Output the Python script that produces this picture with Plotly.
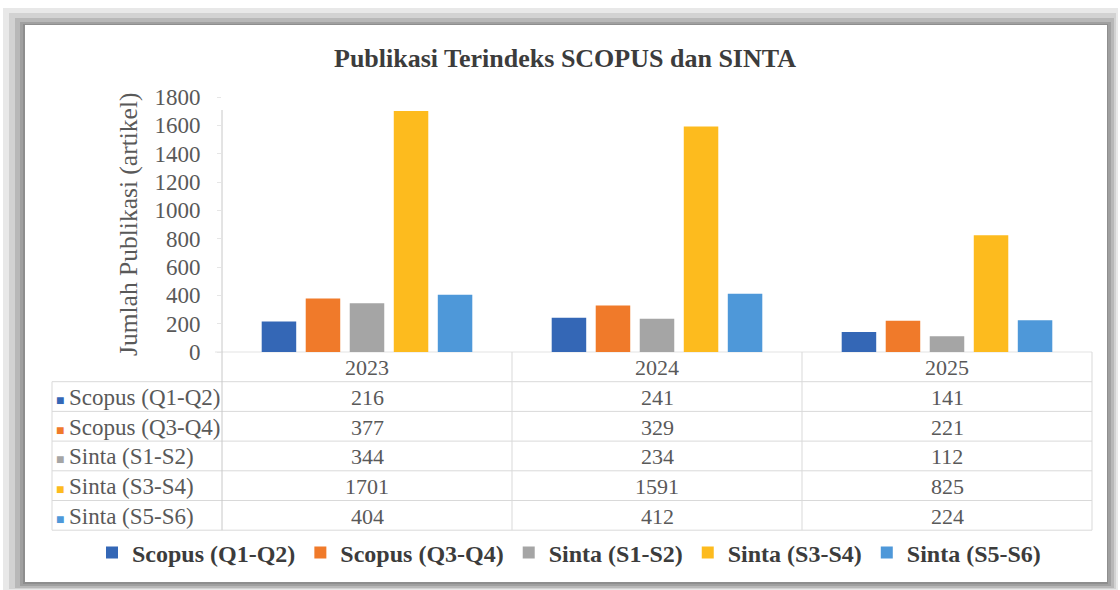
import plotly.graph_objects as go

# ---------------- data ----------------
years = ["2023", "2024", "2025"]
series_names = ["Scopus (Q1-Q2)", "Scopus (Q3-Q4)", "Sinta (S1-S2)", "Sinta (S3-S4)", "Sinta (S5-S6)"]
scopus_q1q2 = [216, 241, 141]
scopus_q3q4 = [377, 329, 221]
sinta_s1s2 = [344, 234, 112]
sinta_s3s4 = [1701, 1591, 825]
sinta_s5s6 = [404, 412, 224]
y_tick_values = [0, 200, 400, 600, 800, 1000, 1200, 1400, 1600, 1800]
chart_title = "Publikasi Terindeks SCOPUS dan SINTA"
y_title = "Jumlah Publikasi (artikel)"

series_values = [scopus_q1q2, scopus_q3q4, sinta_s1s2, sinta_s3s4, sinta_s5s6]
colors = ["#3467B6", "#F07A2A", "#A5A5A5", "#FDBB1E", "#4E98D9"]

# ---------------- layout geometry (pixels) ----------------
W, H = 1120, 590
L, R, T, B = 222, 1092, 97, 352
FONT = "Liberation Serif"
TXT = "#595959"
GRID = "#D9D9D9"


def px(x):
    return (x - L) / (R - L)


def py(y):
    return (B - y) / (B - T)


fig = go.Figure()
for name, vals, col in zip(series_names, series_values, colors):
    fig.add_trace(go.Bar(x=years, y=vals, name=name, marker=dict(color=col, line=dict(width=0))))

shapes = []
# frame with shadow
frame_layers = [
    ((3, 8, 1118, 590), "#e8e8e8"),
    ((9, 13, 1116, 589), "#d2d2d2"),
    ((15, 18, 1114, 588), "#b8b8b8"),
    ((20, 22, 1111, 586), "#a0a0a0"),
    ((23, 24, 1108, 584), "#8e8e8e"),
    ((25, 25, 1107, 582), "#ffffff"),
]
for (x0, y0, x1, y1), c in frame_layers:
    shapes.append(dict(type="rect", xref="paper", yref="paper", x0=px(x0), x1=px(x1), y0=py(y0), y1=py(y1),
                       fillcolor=c, line=dict(width=0), layer="below"))

# data table geometry
row_h = 29.7
hdr_top = B
hdr_bot = B + row_h
row_tops = [hdr_bot + i * row_h for i in range(len(series_names) + 1)]
tbl_bot = row_tops[-1]
label_left = 52
cat_w = (R - L) / len(years)


def cat_center(i):
    return px(L + (i + 0.5) * cat_w)


def hline(x0, x1, y, color=GRID, w=1):
    shapes.append(dict(type="line", xref="paper", yref="paper", x0=px(x0), x1=px(x1), y0=py(y), y1=py(y),
                       line=dict(color=color, width=w), layer="below"))


def vline(x, y0, y1, color=GRID, w=1):
    shapes.append(dict(type="line", xref="paper", yref="paper", x0=px(x), x1=px(x), y0=py(y0), y1=py(y1),
                       line=dict(color=color, width=w), layer="below"))


hline(215, R, B, "#E3E3E3")
for yy in row_tops:
    hline(label_left, R, yy)
for i in range(1, len(years) + 1):
    vline(L + i * cat_w, B, tbl_bot)
vline(label_left, hdr_bot, tbl_bot)
vline(L, 110, tbl_bot, "#C8C8C8")

annotations = []
# title
annotations.append(dict(text="<b>" + chart_title + "</b>", xref="paper", yref="paper", x=px(565), y=py(58),
                        showarrow=False, font=dict(family=FONT, size=26, color="#3c3c3c"),
                        xanchor="center", yanchor="middle"))
# y-axis title
annotations.append(dict(text=y_title, xref="paper", yref="paper", x=px(128), y=py(225), textangle=-90,
                        showarrow=False, font=dict(family=FONT, size=25.5, color=TXT),
                        xanchor="center", yanchor="middle"))
# table header (years)
for i, yr in enumerate(years):
    annotations.append(dict(text=yr, xref="paper", yref="paper", x=cat_center(i),
                            y=py((hdr_top + hdr_bot) / 2 + 1),
                            showarrow=False, font=dict(family=FONT, size=22, color=TXT),
                            xanchor="center", yanchor="middle"))
# table rows
for r, (name, vals, col) in enumerate(zip(series_names, series_values, colors)):
    yc = py(row_tops[r] + row_h / 2 + 1)
    annotations.append(dict(text=f"<span style='color:{col};font-size:14px'>■</span>\u2009{name}",
                            xref="paper", yref="paper", x=px(54), y=yc, showarrow=False,
                            font=dict(family=FONT, size=23, color=TXT), xanchor="left", yanchor="middle"))
    for i, v in enumerate(vals):
        annotations.append(dict(text=str(v), xref="paper", yref="paper", x=cat_center(i), y=yc, showarrow=False,
                                font=dict(family=FONT, size=22, color=TXT), xanchor="center", yanchor="middle"))

fig.update_layout(
    width=W, height=H,
    margin=dict(l=L, r=W - R, t=T, b=H - B, autoexpand=False),
    paper_bgcolor="white", plot_bgcolor="rgba(0,0,0,0)",
    barmode="group", bargap=0.241, bargroupgap=0.216,
    showlegend=True,
    legend=dict(orientation="h", xref="paper", yref="paper",
                x=px(92), xanchor="left", y=py(553), yanchor="middle",
                font=dict(family=FONT, size=24, color="#3c3c3c", weight="bold"),
                bgcolor="rgba(0,0,0,0)", itemwidth=30, tracegroupgap=0),
    shapes=shapes, annotations=annotations,
    font=dict(family=FONT, color=TXT),
)
fig.update_xaxes(type="category", range=[-0.5, len(years) - 0.5], showticklabels=False, showline=False,
                 showgrid=False, zeroline=False, ticks="")
fig.update_yaxes(range=[0, 1800], tickvals=y_tick_values, showgrid=False, zeroline=False, showline=False,
                 ticks="outside", ticklen=4, tickcolor="#E6E6E6", ticklabelstandoff=12,
                 tickfont=dict(family=FONT, size=23, color=TXT))

fig.write_html("out.html", config={"displayModeBar": False},
               post_script="document.body.style.margin='0';document.body.style.overflow='hidden';")
